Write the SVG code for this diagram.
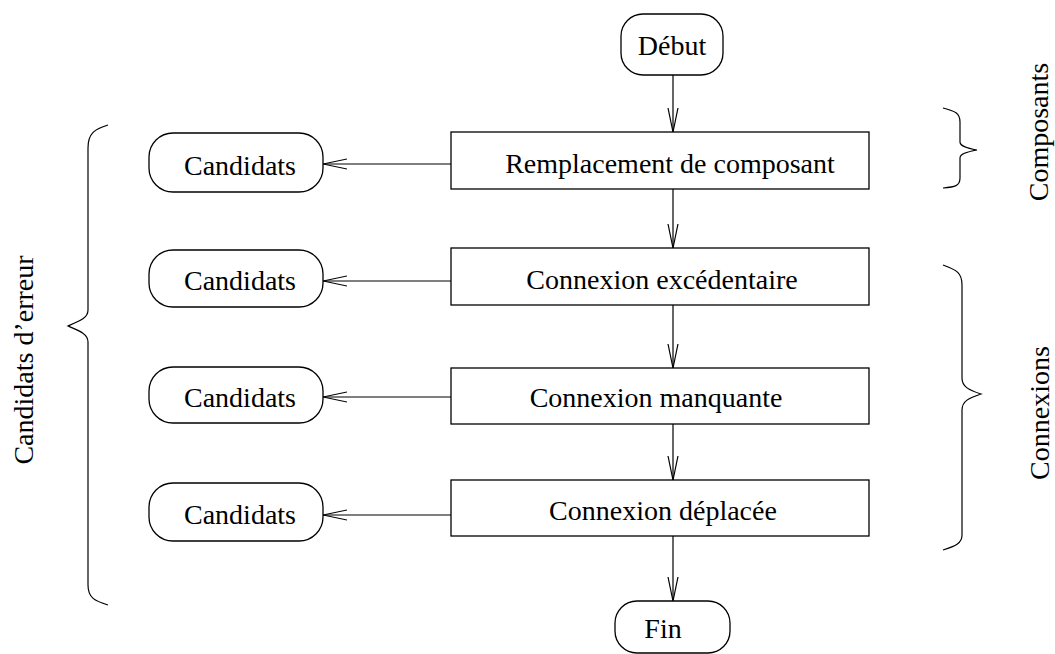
<svg xmlns="http://www.w3.org/2000/svg" width="1055" height="654" viewBox="0 0 1055 654">
  <defs>
    <style>
      .box { fill: #fff; stroke: #000; stroke-width: 1.3; }
      .lbl { font-family: "Liberation Serif", "Times New Roman", serif; font-size: 28px; fill: #000; text-anchor: middle; }
      .edge { fill: none; stroke: #000; stroke-width: 1.2; }
      .brace { fill: none; stroke: #000; stroke-width: 1.2; }
    </style>
    <marker id="open" markerUnits="userSpaceOnUse" viewBox="0 0 24 12" refX="24" refY="6" markerWidth="24" markerHeight="12" orient="auto">
      <path d="M0,1 L24,6 L0,11" fill="none" stroke="#000" stroke-width="1.2"/>
    </marker>
  </defs>

  <rect width="1055" height="654" fill="#fff"/>

  <!-- connectors -->
  <g id="connectors">
    <line class="edge" x1="673" y1="75" x2="673" y2="132" marker-end="url(#open)"/>
    <line class="edge" x1="673" y1="189" x2="673" y2="248" marker-end="url(#open)"/>
    <line class="edge" x1="673" y1="305" x2="673" y2="368" marker-end="url(#open)"/>
    <line class="edge" x1="673" y1="424" x2="673" y2="480" marker-end="url(#open)"/>
    <line class="edge" x1="673" y1="536" x2="673" y2="601" marker-end="url(#open)"/>
    <line class="edge" x1="451" y1="164" x2="323" y2="164" marker-end="url(#open)"/>
    <line class="edge" x1="451" y1="281" x2="323" y2="281" marker-end="url(#open)"/>
    <line class="edge" x1="451" y1="397" x2="323" y2="397" marker-end="url(#open)"/>
    <line class="edge" x1="451" y1="515" x2="323" y2="515" marker-end="url(#open)"/>
  </g>

  <!-- start / end -->
  <g id="debut">
    <rect class="box" x="621" y="14" width="102" height="61" rx="22"/>
    <text class="lbl" x="672" y="55">Début</text>
  </g>
  <g id="fin">
    <rect class="box" x="615" y="601" width="115" height="52" rx="22"/>
    <text class="lbl" x="663" y="638">Fin</text>
  </g>

  <!-- processing steps -->
  <g id="remplacement">
    <rect class="box" x="451" y="132" width="418" height="57"/>
    <text class="lbl" x="670" y="173">Remplacement de composant</text>
  </g>
  <g id="excedentaire">
    <rect class="box" x="451" y="248" width="418" height="57"/>
    <text class="lbl" x="662" y="289">Connexion excédentaire</text>
  </g>
  <g id="manquante">
    <rect class="box" x="451" y="368" width="418" height="56"/>
    <text class="lbl" x="656" y="407">Connexion manquante</text>
  </g>
  <g id="deplacee">
    <rect class="box" x="451" y="480" width="418" height="56"/>
    <text class="lbl" x="663" y="520">Connexion déplacée</text>
  </g>

  <!-- candidate outputs -->
  <g id="candidats1">
    <rect class="box" x="149" y="133" width="174" height="59" rx="24"/>
    <text class="lbl" x="240" y="175">Candidats</text>
  </g>
  <g id="candidats2">
    <rect class="box" x="149" y="250" width="174" height="57" rx="24"/>
    <text class="lbl" x="240" y="290">Candidats</text>
  </g>
  <g id="candidats3">
    <rect class="box" x="149" y="367" width="174" height="56" rx="24"/>
    <text class="lbl" x="240" y="407">Candidats</text>
  </g>
  <g id="candidats4">
    <rect class="box" x="149" y="483" width="174" height="58" rx="24"/>
    <text class="lbl" x="240" y="524">Candidats</text>
  </g>

  <!-- braces and group labels -->
  <g id="brace-erreur">
    <path class="brace" d="M108,125 C95,129 88,133 88,148 L88,310 C88,318 80,321 68,326 C80,331 88,334 88,342 L88,585 C88,598 95,601 108,605"/>
    <text class="lbl" transform="translate(33,360) rotate(-90)">Candidats d’erreur</text>
  </g>
  <g id="brace-composants">
    <path class="brace" d="M943,108 C955,111 960,113 960,122 L960,142 C960,146 966,148 977,150 C966,152 960,154 960,158 L960,178 C960,186 955,187 943,188"/>
    <text class="lbl" transform="translate(1048,132) rotate(-90)">Composants</text>
  </g>
  <g id="brace-connexions">
    <path class="brace" d="M943,265 C957,270 962,273 962,285 L962,378 C962,387 969,390 981,394 C969,398 962,401 962,410 L962,535 C962,543 956,546 943,550"/>
    <text class="lbl" transform="translate(1049,413) rotate(-90)">Connexions</text>
  </g>
</svg>
